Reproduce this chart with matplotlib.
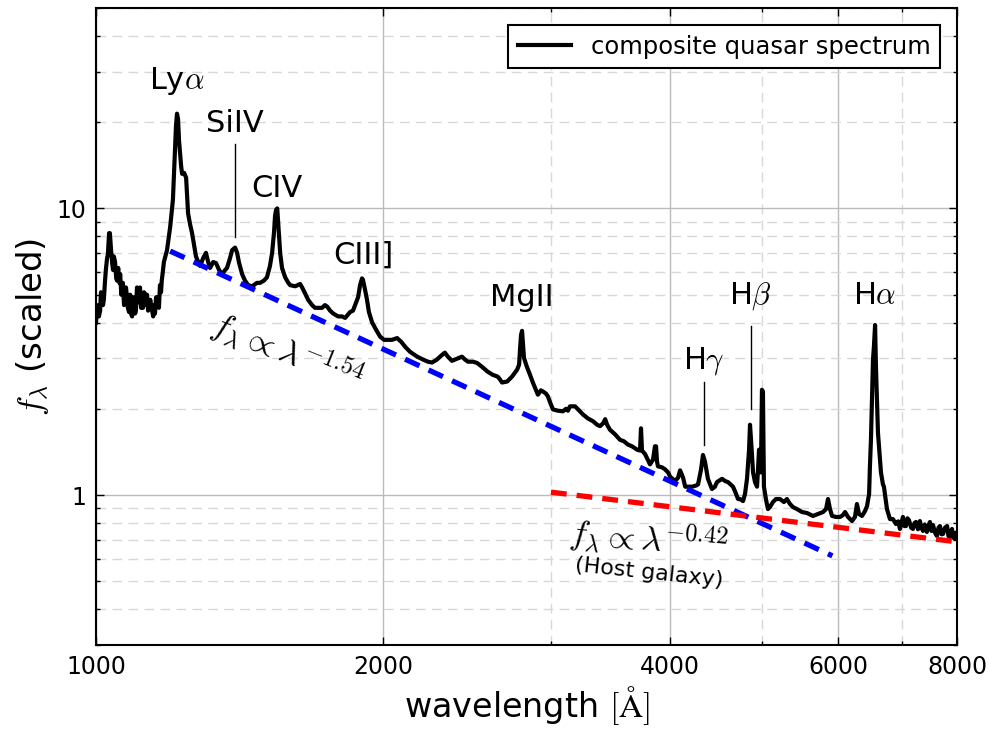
import matplotlib
matplotlib.use("Agg")
import matplotlib.pyplot as plt
from matplotlib.ticker import FixedLocator, FormatStrFormatter, NullFormatter, LogLocator

plt.rcParams['mathtext.fontset'] = 'cm'
plt.rcParams['font.family'] = 'DejaVu Sans'

# composite quasar spectrum (rest frame), wavelength in Angstrom, flux scaled
wavelength = [
    1000, 1002, 1005, 1007, 1010, 1012, 1015, 1017, 1019, 1022, 1024, 1027,
    1029, 1032, 1034, 1037, 1040, 1042, 1044, 1047, 1050, 1052, 1055, 1058,
    1060, 1063, 1065, 1067, 1070, 1072, 1075, 1077, 1080, 1083, 1086, 1088,
    1091, 1094, 1096, 1099, 1101, 1104, 1107, 1110, 1112, 1115, 1117, 1120,
    1123, 1126, 1129, 1131, 1134, 1136, 1140, 1145, 1148, 1150, 1153, 1156,
    1159, 1161, 1164, 1167, 1170, 1172, 1175, 1178,
    1187, 1196, 1204, 1210, 1213, 1216, 1219, 1222, 1228, 1231, 1237, 1243,
    1249, 1255, 1261, 1267, 1273, 1280, 1286, 1295, 1304, 1311, 1317, 1327,
    1336, 1346, 1356, 1366, 1372, 1382, 1389, 1399, 1406, 1412, 1423, 1433,
    1444, 1458, 1475, 1486, 1500, 1511, 1522, 1530, 1537, 1541, 1545, 1549,
    1552, 1560, 1567, 1579, 1591, 1598, 1618, 1637, 1645, 1657, 1669, 1685,
    1697, 1709, 1726, 1738, 1747, 1760, 1773, 1794, 1812, 1825, 1847, 1860,
    1874, 1883, 1892, 1901, 1905, 1915, 1924, 1933, 1948, 1967, 1986, 2005,
    2024, 2044, 2069, 2089, 2110, 2135, 2172, 2203, 2229, 2251, 2278, 2300,
    2322, 2339, 2362, 2391, 2420, 2438, 2455, 2486, 2510, 2541, 2573, 2605,
    2638, 2653, 2666, 2699, 2731, 2765, 2778, 2784, 2791, 2798, 2805, 2811,
    2831, 2852, 2872, 2893, 2907, 2928, 2942, 2964, 2978, 3000, 3015, 3051,
    3088, 3111, 3126, 3141, 3180, 3203, 3242, 3281, 3321, 3354, 3378, 3403,
    3420, 3436, 3460, 3502, 3544, 3579, 3614, 3649, 3694, 3720, 3729, 3738,
    3766, 3811, 3839, 3857, 3867, 3876, 3885, 3923, 3952, 3981, 4000, 4049,
    4078, 4098, 4128, 4149, 4188, 4219, 4260, 4280, 4311, 4331, 4352, 4383,
    4426, 4458, 4480, 4535, 4568, 4601, 4657, 4680, 4714, 4736, 4771, 4794,
    4817, 4841, 4852, 4864, 4888, 4911, 4935, 4947, 4959, 4970, 4982, 4994,
    5006, 5018, 5042, 5067, 5092, 5129, 5166, 5216, 5266, 5304, 5344, 5383,
    5435, 5501, 5568, 5649, 5718, 5788, 5830, 5858, 5886, 5915, 5972, 6030,
    6074, 6104, 6148, 6207, 6252, 6282, 6313, 6359, 6406, 6437, 6469, 6482,
    6498, 6514, 6530, 6545, 6563, 6577, 6593, 6609, 6641, 6657, 6689, 6705,
    6721, 6754, 6803, 6852, 6902, 6940, 6969, 6995, 7020, 7045, 7071, 7097,
    7123, 7160, 7192, 7220, 7245, 7280, 7314, 7340, 7369, 7400, 7438, 7465,
    7493, 7520, 7549, 7585, 7620, 7650, 7676, 7705, 7734, 7770, 7810, 7835,
    7864, 7885, 7903, 7930, 7961, 7980, 8000,
]
flux = [
    4.0, 4.5, 4.6, 4.2, 4.4, 5.1, 5.0, 4.6, 4.8, 5.6, 6.1, 6.7,
    6.9, 8.2, 8.2, 7.15, 6.4, 6.1, 6.8, 6.5, 5.7, 5.6, 6.2, 5.5,
    5.9, 5.0, 5.2, 5.5, 4.6, 4.8, 5.3, 5.0, 4.5, 4.35, 5.0, 4.3,
    4.2, 4.9, 4.8, 4.3, 4.4, 5.3, 5.2, 4.7, 5.3, 4.5, 4.8, 4.5,
    5.1, 5.0, 4.6, 5.0, 4.4, 4.6, 4.8, 4.4, 4.2, 4.6, 4.3, 4.9,
    4.8, 4.9, 4.5, 5.4, 5.1, 5.6, 6.0, 6.5,
    7.15, 8.6, 10.7, 16.0, 19.4, 21.4, 20.5, 17.2, 14.1, 13.2, 13.3, 12.8,
    9.6, 8.8, 8.2, 7.45, 6.8, 6.5, 6.3, 6.7, 7.0, 6.5, 6.2, 6.5,
    6.45, 6.1, 5.9, 6.1, 6.2, 6.7, 7.15, 7.3, 7.0, 6.5, 5.9, 5.6,
    5.4, 5.35, 5.5, 5.5, 5.6, 5.75, 6.3, 7.0, 8.25, 9.45, 9.9, 10.0,
    9.1, 7.0, 6.2, 5.75, 5.5, 5.4, 5.35, 5.45, 5.3, 5.05, 4.8, 4.6,
    4.5, 4.5, 4.5, 4.6, 4.55, 4.4, 4.3, 4.2, 4.2, 4.15, 4.35, 4.4,
    4.7, 4.9, 5.4, 5.7, 5.65, 5.2, 4.8, 4.35, 4.0, 3.77, 3.57, 3.48,
    3.48, 3.48, 3.53, 3.43, 3.29, 3.16, 3.04, 2.97, 2.92, 2.9, 2.97, 3.06,
    3.14, 3.04, 2.94, 2.99, 3.04, 2.97, 2.92, 2.92, 2.89, 2.80, 2.70, 2.63,
    2.59, 2.53, 2.47, 2.49, 2.59, 2.74, 2.85, 3.21, 3.62, 3.74, 3.34, 3.01,
    2.80, 2.63, 2.47, 2.33, 2.24, 2.32, 2.30, 2.26, 2.21, 2.07, 1.99, 1.97,
    1.96, 2.0, 1.97, 2.04, 2.04, 1.99, 1.91, 1.85, 1.81, 1.76, 1.74, 1.78,
    1.84, 1.76, 1.69, 1.63, 1.56, 1.54, 1.50, 1.48, 1.44, 1.43, 1.71, 1.43,
    1.39, 1.28, 1.33, 1.48, 1.48, 1.31, 1.26, 1.25, 1.23, 1.20, 1.16, 1.12,
    1.15, 1.22, 1.15, 1.07, 1.07, 1.07, 1.08, 1.09, 1.23, 1.38, 1.31, 1.14,
    1.05, 1.07, 1.11, 1.14, 1.12, 1.11, 1.07, 1.03, 0.969, 0.969, 0.953, 1.01,
    1.14, 1.44, 1.76, 1.56, 1.20, 1.11, 1.07, 1.23, 1.44, 1.23, 1.2, 2.33,
    2.30, 1.07, 0.969, 0.894, 0.91, 0.946, 0.969, 0.969, 0.946, 0.969, 0.931, 0.908,
    0.894, 0.873, 0.866, 0.846, 0.859, 0.873, 0.894, 0.969, 0.894, 0.846, 0.839, 0.839,
    0.852, 0.873, 0.839, 0.812, 0.839, 0.931, 0.859, 0.846, 0.88, 0.916, 1.01, 1.26,
    1.56, 2.15, 2.97, 3.3, 3.92, 2.8, 2.15, 1.65, 1.33, 1.2, 1.09, 1.07,
    1.01, 0.894, 0.825, 0.825, 0.793, 0.81, 0.762, 0.80, 0.839, 0.78, 0.78, 0.83,
    0.818, 0.77, 0.762, 0.80, 0.806, 0.76, 0.812, 0.77, 0.75, 0.79, 0.744, 0.78,
    0.806, 0.75, 0.786, 0.74, 0.72, 0.77, 0.78, 0.73, 0.732, 0.77, 0.78, 0.72,
    0.715, 0.75, 0.762, 0.71, 0.704, 0.74, 0.72,
]

# power-law continuum fits: end points of each segment
qso_wl = [1196, 5920]
qso_fl = [7.1, 0.614]
host_wl = [3000, 8000]
host_fl = [1.024, 0.687]

# emission line labels: (text, wavelength, baseline flux)
line_names = [r'Ly$\alpha$', 'SiIV', 'CIV', 'CIII]', 'MgII',
              r'H$\gamma$', r'H$\beta$', r'H$\alpha$']
line_wl = [1216, 1400, 1549, 1909, 2798, 4340, 4861, 6563]
line_label_fl = [26.1, 18.5, 11.0, 6.39, 4.57, 2.76, 4.64, 4.64]

# thin marker lines under some of the labels: (wavelength, f_top, f_bottom)
marker_wl = [1400, 4340, 4861]
marker_top = [16.8, 2.49, 3.9]
marker_bottom = [7.93, 1.50, 1.99]

fig = plt.figure(figsize=(9.89, 7.29), dpi=100)
ax = fig.add_axes([0.0971, 0.1152, 0.8706, 0.8738])

ax.plot(wavelength, flux, '-', color='k', lw=3.0, label='composite quasar spectrum',
        zorder=3)
ax.plot(qso_wl, qso_fl, color='#0000ff', lw=3.8, dashes=(3.0, 1.9), zorder=4)
ax.plot(host_wl, host_fl, color='#ff0000', lw=3.8, dashes=(3.0, 1.9), zorder=4)

for name, wl, fl in zip(line_names, line_wl, line_label_fl):
    ax.text(wl, fl, name, ha='center', va='baseline', fontsize=22)

for wl, top, bot in zip(marker_wl, marker_top, marker_bottom):
    ax.plot([wl, wl], [bot, top], color='k', lw=1.0, zorder=2)

ax.text(1586, 3.16, r'$f_\lambda \propto \lambda^{-1.54}$', fontsize=25,
        rotation=-22, ha='center', va='center')
ax.text(3796, 0.703, r'$f_\lambda \propto \lambda^{-0.42}$', fontsize=25,
        rotation=-5, ha='center', va='center')
ax.text(3802, 0.536, '(Host galaxy)', fontsize=16,
        rotation=-6, ha='center', va='center')

ax.set_xscale('log')
ax.set_yscale('log')
ax.set_xlim(1000, 8000)
ax.set_ylim(0.3, 50)

ax.xaxis.set_major_locator(FixedLocator([1000, 2000, 4000, 6000, 8000]))
ax.xaxis.set_minor_locator(FixedLocator([3000, 5000, 7000]))
ax.xaxis.set_major_formatter(FormatStrFormatter('%d'))
ax.xaxis.set_minor_formatter(NullFormatter())
ax.yaxis.set_major_locator(LogLocator(base=10))
ax.yaxis.set_minor_locator(LogLocator(base=10, subs=range(2, 10)))
ax.yaxis.set_major_formatter(FormatStrFormatter('%g'))
ax.yaxis.set_minor_formatter(NullFormatter())

ax.tick_params(which='both', direction='in', top=True, right=True,
               labelsize=17, pad=7)
ax.tick_params(which='major', length=6, width=1)
ax.tick_params(which='minor', length=3, width=1)
for sp in ax.spines.values():
    sp.set_linewidth(1.5)

ax.grid(which='major', color='#bbbbbb', lw=1.0, ls='-', zorder=0)
ax.grid(which='minor', color='#d8d8d8', lw=1.0, dashes=(7, 4.5), zorder=0)
ax.set_axisbelow(True)

ax.set_xlabel(r'wavelength $[\mathrm{\AA}]$', fontsize=24)
ax.set_ylabel(r'$f_\lambda$ (scaled)', fontsize=24.5)

leg = ax.legend(loc='upper right', fontsize=17.5, handlelength=2.2,
                fancybox=False, framealpha=1, borderaxespad=0.7)
leg.get_frame().set_edgecolor('k')
leg.get_frame().set_linewidth(1.5)

fig.savefig('out.png', dpi=100)
